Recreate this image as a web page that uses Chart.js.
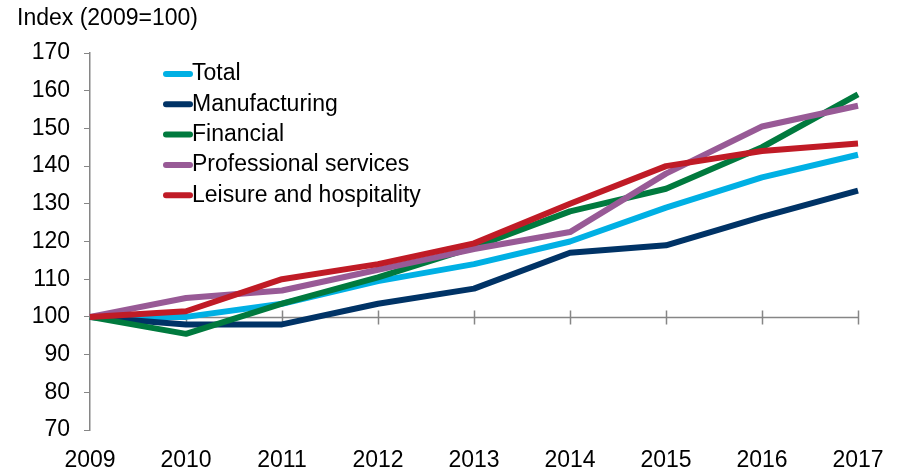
<!DOCTYPE html>
<html>
<head>
<meta charset="utf-8">
<script src="https://cdn.jsdelivr.net/npm/chart.js@4.4.1/dist/chart.umd.min.js"></script>
<style>
  html, body { margin: 0; padding: 0; background: #ffffff; }
  #wrap { width: 902px; height: 472px; position: relative; }
</style>
</head>
<body>
<div id="wrap"><canvas id="c" width="902" height="472"></canvas></div>
<script>
// Employment index by sector, 2009 = 100
const years = ['2009', '2010', '2011', '2012', '2013', '2014', '2015', '2016', '2017'];
const total         = [100, 100,   103.5, 109.5, 114,   120,   129, 137,   143];
const manufacturing = [100, 98,    98,    103.5, 107.5, 117,   119, 126.5, 133.5];
const financial     = [100, 95.5,  103.5, 110.5, 118.5, 128,   134, 145,   159];
const professional  = [100, 105,   107,   112.5, 118,   122.5, 138, 150.5, 156];
const leisure       = [100, 101.5, 110,   114,   119.5, 130,   140, 144,   146];
const seriesNames = ['Total', 'Manufacturing', 'Financial', 'Professional services', 'Leisure and hospitality'];
const seriesColors = ['#00b0e4', '#003366', '#007a3e', '#985a96', '#c01b26'];
const yMin = 70, yMax = 170, yStep = 10, baseValue = 100;
const axisTitle = 'Index (2009=100)';

const FONT = '"Liberation Sans", Arial, sans-serif';
const AXIS_GREY = '#868686';

const seriesValues = [total, manufacturing, financial, professional, leisure];
const datasets = seriesValues.map((vals, i) => ({
  label: seriesNames[i],
  data: vals,
  borderColor: seriesColors[i],
  backgroundColor: seriesColors[i],
  borderWidth: 6,
  pointRadius: 0,
  tension: 0,
  fill: false,
  borderJoinStyle: 'round',
  borderCapStyle: 'butt',
  order: seriesValues.length - i   // later series drawn on top
}));

// Horizontal axis line at the base value, with ticks crossing it
const baseAxisPlugin = {
  id: 'baseAxis',
  beforeDatasetsDraw(chart) {
    const { ctx, scales: { x, y } } = chart;
    const py = Math.round(y.getPixelForValue(baseValue)) + 0.5;
    const x0 = x.getPixelForValue(0);
    const x1 = x.getPixelForValue(years.length - 1);
    ctx.save();
    ctx.strokeStyle = AXIS_GREY;
    ctx.lineWidth = 1.5;
    ctx.beginPath();
    ctx.moveTo(x0, py);
    ctx.lineTo(x1, py);
    for (let i = 1; i < years.length; i++) {
      const px = Math.round(x.getPixelForValue(i)) + 0.5;
      ctx.moveTo(px, py - 7);
      ctx.lineTo(px, py + 7);
    }
    ctx.stroke();
    ctx.restore();
  }
};

// Legend inside the plot area, plus the axis title
const insideLegendPlugin = {
  id: 'insideLegend',
  afterDatasetsDraw(chart) {
    const { ctx } = chart;
    ctx.save();
    ctx.font = '23px ' + FONT;
    ctx.textBaseline = 'middle';
    ctx.textAlign = 'left';
    ctx.fillStyle = '#000000';
    ctx.fillText(axisTitle, 17, 19);

    const left = 166, lineLen = 24, top = 74, gap = 30.3;
    chart.data.datasets.forEach((ds, i) => {
      const cy = top + i * gap;
      ctx.strokeStyle = ds.borderColor;
      ctx.lineWidth = 6;
      ctx.lineCap = 'round';
      ctx.beginPath();
      ctx.moveTo(left, cy);
      ctx.lineTo(left + lineLen, cy);
      ctx.stroke();
      ctx.fillStyle = '#000000';
      ctx.fillText(ds.label, left + lineLen + 2, cy);
    });
    ctx.restore();
  }
};

new Chart(document.getElementById('c'), {
  type: 'line',
  data: { labels: years, datasets },
  options: {
    responsive: false,
    animation: false,
    devicePixelRatio: 1,
    layout: { padding: { top: 53, right: 44, left: 0, bottom: 0 } },
    plugins: { legend: { display: false }, tooltip: { enabled: false }, title: { display: false } },
    scales: {
      x: {
        type: 'category',
        position: 'bottom',
        offset: false,
        grid: { display: false },
        border: { display: false },
        ticks: { font: { family: FONT, size: 23 }, color: '#000000', maxRotation: 0, autoSkip: false, padding: 9 },
        afterFit(s) { s.height = 42; }
      },
      y: {
        min: yMin,
        max: yMax,
        grid: { display: true, drawOnChartArea: false, drawTicks: true, tickLength: 6, color: AXIS_GREY, lineWidth: 1 },
        border: { display: true, color: AXIS_GREY, width: 1.5 },
        ticks: { stepSize: yStep, font: { family: FONT, size: 23 }, color: '#000000', padding: 14 },
        afterFit(s) { s.width = 90; }
      }
    }
  },
  plugins: [baseAxisPlugin, insideLegendPlugin]
});
</script>
</body>
</html>
